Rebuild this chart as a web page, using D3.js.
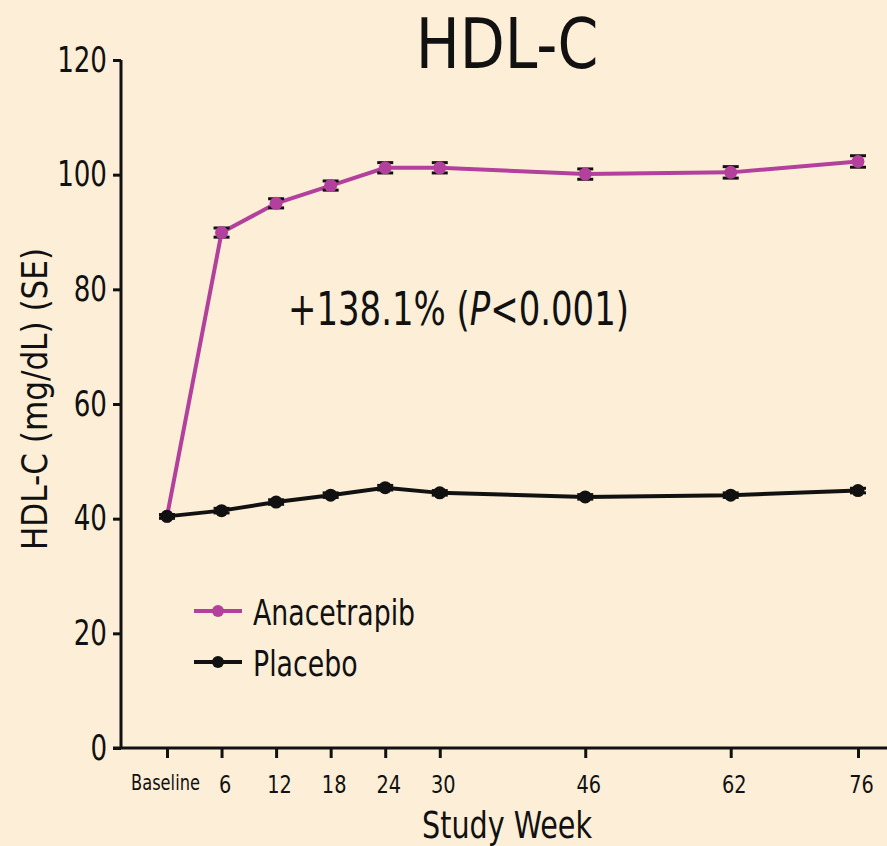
<!DOCTYPE html>
<meta charset="utf-8">
<style>
  body { margin: 0; background: #fdefd7; }
  text { font-family: "Liberation Sans Narrow", "DejaVu Sans Condensed", sans-serif; fill: #111; }
</style>
<body>
<div id="my_dataviz"></div>

<script src="https://d3js.org/d3.v7.min.js"></script>
<script>

// Data
var weeks = [0, 6, 12, 18, 24, 30, 46, 62, 76];
var weekLabels = ["Baseline", "6", "12", "18", "24", "30", "46", "62", "76"];
var anacetrapib = [40.4, 89.9, 95.0, 98.1, 101.2, 101.2, 100.1, 100.4, 102.3];
var anacetrapibSE = [0.3, 0.8, 0.8, 0.8, 0.9, 0.9, 0.9, 1.0, 1.0];
var placebo = [40.4, 41.4, 42.9, 44.1, 45.4, 44.5, 43.8, 44.1, 44.9];
var placeboSE = [0.3, 0.4, 0.4, 0.4, 0.4, 0.4, 0.4, 0.4, 0.4];
var yTicks = [0, 20, 40, 60, 80, 100, 120];

var purple = "#b2409c";

// Set the dimensions of the graph
var width = 887, height = 846;

var svg = d3.select("#my_dataviz")
  .append("svg")
    .attr("width", width)
    .attr("height", height);

svg.append("rect")
  .attr("width", width)
  .attr("height", height)
  .attr("fill", "#fdefd7");

// Scales: week is linear on x
var x = d3.scaleLinear()
  .domain([0, 76])
  .range([167, 858]);
var y = d3.scaleLinear()
  .domain([0, 120])
  .range([748, 60]);

// the original font is narrower than what we have, so squeeze text sideways
function label(px, py, size, sx, anchor, rot) {
  return svg.append("text")
    .attr("transform", "translate(" + px + "," + py + ")" + (rot ? " rotate(" + rot + ")" : "") + " scale(" + sx + ",1)")
    .attr("text-anchor", anchor || "start")
    .style("font-size", size + "px");
}

// Title
label(507, 68, 70, 0.93, "middle").text("HDL-C");

// Y axis
var yAxis = svg.append("g")
  .attr("transform", "translate(121,0)")
  .call(d3.axisLeft(y).tickValues(yTicks).tickSize(8).tickPadding(6));
yAxis.select(".domain").attr("d", "M0," + y(120) + "V" + y(0));
yAxis.selectAll("line, path").attr("stroke", "#111").attr("stroke-width", 3);
yAxis.selectAll("text")
  .style("font-size", "35px")
  .attr("fill", "#111")
  .attr("x", -14 / 0.83)
  .attr("transform", "scale(0.83,1)");

// X axis
var xAxis = svg.append("g")
  .attr("transform", "translate(0," + y(0) + ")")
  .call(d3.axisBottom(x).tickValues(weeks)
    .tickFormat(function(d, i) { return weekLabels[i]; })
    .tickSize(10).tickPadding(17));
xAxis.select(".domain").attr("d", "M113,0H887");
xAxis.selectAll("line, path").attr("stroke", "#111").attr("stroke-width", 3);
xAxis.selectAll("text")
  .attr("fill", "#111")
  .style("font-size", function(d, i) { return i === 0 ? "21px" : "25px"; })
  .attr("transform", function(d, i) { return i === 0 ? "translate(-2,0) scale(0.86,1)" : "translate(3,0) scale(0.86,1)"; });

// Axis titles
label(507, 838, 37, 0.86, "middle").text("Study Week");
label(47, 399, 36, 0.96, "middle", -90).text("HDL-C (mg/dL) (SE)");

// Annotation
label(288, 325, 46, 0.82).html("+138.1% (<tspan font-style='italic'>P</tspan>&lt;0.001)");

// Draw one series: line, error bars, markers
function drawSeries(values, se, color) {
  var pts = weeks.map(function(w, i) { return {w: w, v: values[i], se: se[i]}; });

  svg.append("path")
    .datum(pts)
    .attr("fill", "none")
    .attr("stroke", color)
    .attr("stroke-width", 4)
    .attr("d", d3.line()
      .x(function(d) { return x(d.w); })
      .y(function(d) { return y(d.v); }));

  var eb = svg.append("g").selectAll("g")
    .data(pts)
    .enter().append("g");
  eb.append("line")
    .attr("x1", function(d) { return x(d.w); })
    .attr("x2", function(d) { return x(d.w); })
    .attr("y1", function(d) { return y(d.v + d.se); })
    .attr("y2", function(d) { return y(d.v - d.se); })
    .attr("stroke", "#111").attr("stroke-width", 2);
  [1, -1].forEach(function(s) {
    eb.append("line")
      .attr("x1", function(d) { return x(d.w) - 8; })
      .attr("x2", function(d) { return x(d.w) + 8; })
      .attr("y1", function(d) { return y(d.v + s * d.se); })
      .attr("y2", function(d) { return y(d.v + s * d.se); })
      .attr("stroke", "#111").attr("stroke-width", 3);
  });

  svg.append("g").selectAll("circle")
    .data(pts)
    .enter().append("circle")
      .attr("cx", function(d) { return x(d.w); })
      .attr("cy", function(d) { return y(d.v); })
      .attr("r", 6.5)
      .attr("fill", color);
}

drawSeries(anacetrapib, anacetrapibSE, purple);
drawSeries(placebo, placeboSE, "#111");

// Legend
var legend = [{name: "Anacetrapib", color: purple}, {name: "Placebo", color: "#111"}];
var lg = svg.append("g").selectAll("g")
  .data(legend)
  .enter().append("g")
    .attr("transform", function(d, i) { return "translate(194," + (611 + i * 51) + ")"; });
lg.append("line")
  .attr("x1", 0).attr("x2", 48)
  .attr("stroke", function(d) { return d.color; })
  .attr("stroke-width", 4);
lg.append("circle")
  .attr("cx", 24).attr("r", 6)
  .attr("fill", function(d) { return d.color; });
lg.append("text")
  .attr("transform", "translate(59,14) scale(0.85,1)")
  .style("font-size", "35px")
  .text(function(d) { return d.name; });

</script>
</body>
